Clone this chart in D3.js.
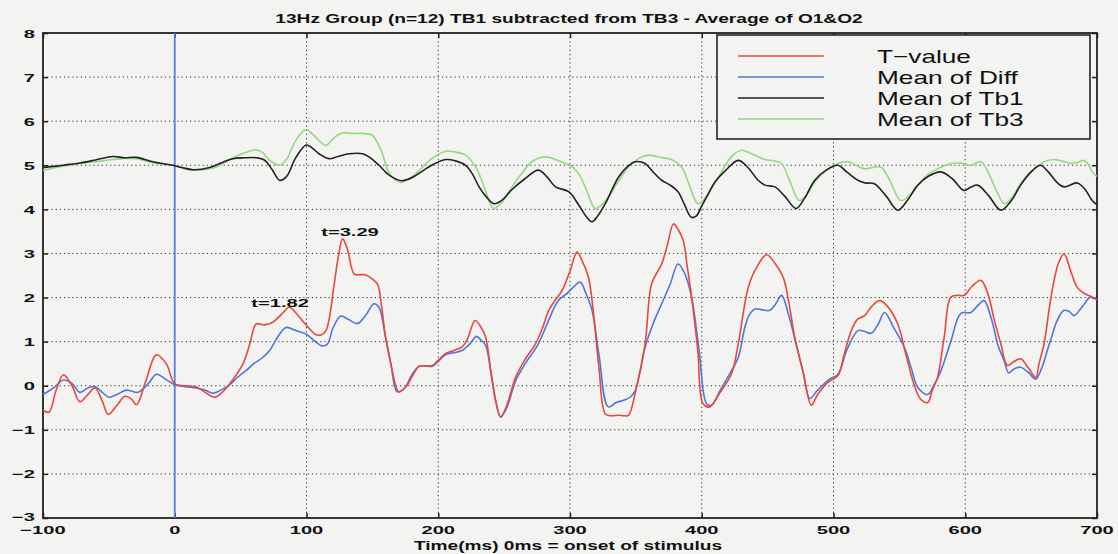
<!DOCTYPE html>
<html>
<head>
<meta charset="utf-8">
<script src="https://cdn.jsdelivr.net/npm/d3@7"></script>
<style>
  html, body { margin: 0; padding: 0; background: #f3f3f1; }
  svg { display: block; }
  text { font-family: "Liberation Sans", Arial, sans-serif; fill: #111; }
</style>
</head>
<body>
<div id="chart"></div>
<script>
// DATOS: [tiempo ms, valor]
var tValue = [[-100,-0.55],[-95.5,-0.6],[-90,-0.1],[-84.5,0.25],[-78,0.0],[-72,-0.36],[-66,-0.2],[-60.6,-0.05],[-55,-0.35],[-50.5,-0.65],[-44,-0.45],[-37.8,-0.24],[-33,-0.3],[-29,-0.43],[-22,0.1],[-14,0.7],[-6.3,0.49],[0,0.04],[8,0.0],[16.4,-0.03],[23,-0.15],[30.3,-0.26],[36,-0.15],[41.6,0.04],[51.7,0.49],[57,0.95],[61.8,1.4],[68,1.38],[74.4,1.44],[81,1.62],[87,1.78],[92,1.65],[97,1.47],[102,1.3],[107,1.16],[111,1.15],[114.8,1.25],[121,2.3],[124,2.9],[127.4,3.33],[131,3.1],[136.3,2.53],[141,2.52],[145,2.51],[150,2.42],[154,2.3],[157,1.8],[160,1.1],[164,0.5],[168,-0.03],[170,-0.14],[175.4,-0.03],[180,0.2],[185.5,0.44],[190,0.45],[195.5,0.46],[200,0.58],[205.7,0.73],[212,0.8],[218,0.88],[222,1.05],[228,1.48],[232,1.35],[236,1.1],[240,0.3],[244,-0.4],[247.3,-0.71],[252,-0.45],[258.7,0.19],[266,0.6],[273.8,0.95],[279,1.3],[283.9,1.71],[289,1.95],[294,2.16],[300,2.6],[305.3,3.03],[309,2.85],[314,2.46],[318,1.6],[322,0.4],[326.8,-0.64],[331,-0.68],[337,-0.67],[341,-0.68],[344.4,-0.67],[350,-0.1],[357,0.95],[362,2.31],[369.6,2.76],[374,3.2],[378.5,3.67],[382,3.55],[386,3.29],[389,2.7],[392.3,2.01],[397,0.8],[401,-0.41],[406,-0.48],[414,-0.15],[422.6,0.27],[427.7,0.95],[432.7,1.86],[435.3,2.23],[441,2.65],[449.2,2.97],[455,2.8],[461.8,2.46],[466,1.9],[470.6,1.1],[477,0.3],[483.2,-0.44],[488,-0.2],[495.8,0.08],[503.4,0.23],[508,0.7],[513.5,1.25],[518,1.5],[523.6,1.59],[529,1.8],[535,1.93],[541,1.8],[548.8,1.4],[555,0.7],[561.4,0.0],[566,-0.3],[571.5,-0.38],[575,-0.1],[579,0.19],[584,1.1],[589,2.01],[594,2.05],[599.2,2.05],[605,2.25],[611.9,2.39],[617,2.1],[622,1.5],[627,0.95],[632,0.46],[637,0.55],[642,0.61],[648,0.4],[653.5,0.19],[656,0.5],[659.8,0.95],[664,1.8],[667.4,2.39],[671,2.8],[675,2.99],[680,2.6],[685,2.23],[690,2.1],[696.4,2.01],[700,1.95]];

var meanDiff = [[-100,-0.2],[-92,-0.05],[-84.5,0.13],[-78,0.05],[-72,-0.15],[-66,-0.05],[-60.6,-0.02],[-55,-0.15],[-50,-0.26],[-44,-0.2],[-37,-0.1],[-33,-0.12],[-28,-0.15],[-20,0.05],[-13.9,0.26],[-7,0.15],[0,0.02],[8,-0.02],[16.4,-0.05],[23,-0.1],[29,-0.17],[35,-0.1],[41.6,0.02],[48,0.2],[54,0.34],[60,0.5],[66.7,0.64],[72,0.8],[78,1.1],[84.5,1.32],[92,1.25],[99.7,1.17],[106,1.02],[112.3,0.9],[116,0.95],[120,1.3],[126,1.58],[132,1.5],[138.6,1.41],[145,1.6],[151.2,1.86],[155,1.78],[160,1.1],[164,0.5],[168,-0.11],[170,-0.14],[175,-0.03],[180,0.25],[185.5,0.44],[190,0.45],[195.5,0.44],[200,0.55],[205.7,0.71],[212,0.75],[218,0.8],[224,0.95],[229,1.12],[232,1.05],[236,0.91],[240,0.3],[244,-0.4],[247.3,-0.71],[252,-0.5],[258.7,0.11],[266,0.5],[276,0.95],[284,1.5],[291,1.93],[298,2.1],[303,2.25],[307.8,2.35],[312,2.1],[316.7,1.71],[322,0.7],[329,-0.48],[335,-0.38],[341.9,-0.32],[346,-0.25],[349.5,-0.11],[353,0.3],[357,0.87],[363,1.4],[369.6,1.86],[376,2.3],[382,2.76],[387,2.55],[392.3,2.01],[398,0.8],[403.7,-0.41],[407.5,-0.44],[414,-0.1],[422.6,0.34],[427.7,0.64],[432.7,1.32],[436,1.6],[440.4,1.74],[446,1.72],[451.7,1.71],[456,1.85],[460.6,2.05],[466,1.6],[471.6,0.95],[477,0.3],[482,-0.29],[488,-0.1],[497,0.15],[503.4,0.26],[510,0.8],[518.5,1.25],[523,1.24],[528.6,1.19],[534,1.4],[538.7,1.66],[546,1.3],[553.8,0.87],[559,0.4],[564,-0.04],[571.5,-0.2],[576,0.0],[581.6,0.34],[589,1.0],[596.7,1.64],[604.2,1.66],[609,1.8],[614.3,1.93],[620,1.5],[625,0.9],[629.5,0.57],[633,0.29],[637,0.38],[642,0.42],[648,0.3],[653.5,0.15],[658,0.4],[662.3,0.8],[666,1.15],[669.8,1.48],[675,1.71],[679,1.68],[682.6,1.59],[689,1.8],[695,2.01],[700,1.95]];

var meanTb1 = [[-100,4.95],[-90,4.98],[-80,5.02],[-72,5.05],[-60,5.12],[-47,5.2],[-38,5.17],[-29,5.18],[-16.6,5.08],[-1.5,5.0],[5,4.95],[14,4.9],[26.5,4.95],[35,5.05],[44,5.15],[53,5.17],[62,5.17],[68,5.12],[74,4.9],[79.5,4.66],[84.5,4.73],[92,5.18],[99.7,5.46],[104,5.4],[110,5.25],[117,5.15],[124,5.2],[132.5,5.26],[142.5,5.26],[148,5.18],[155,5.0],[163,4.77],[171.6,4.65],[177,4.68],[183,4.77],[195,5.0],[205.7,5.13],[213,5.1],[220.8,5.0],[226,4.8],[231,4.51],[236,4.3],[242,4.13],[248,4.2],[256,4.45],[266,4.7],[276,4.89],[283,4.72],[289,4.51],[299,4.4],[306.6,4.1],[312,3.85],[316.7,3.72],[321,3.85],[326.8,4.13],[337,4.74],[344,4.98],[349.5,5.08],[357,5.04],[363,4.85],[369.6,4.66],[376,4.55],[382,4.4],[387,4.1],[392,3.82],[396,3.85],[399.7,4.06],[405,4.35],[410,4.62],[418,4.88],[427.7,5.11],[435,4.95],[442.8,4.66],[448,4.55],[455.5,4.51],[463,4.3],[471.6,4.02],[478,4.25],[485.8,4.66],[495,4.9],[503.4,5.0],[510,4.85],[518.5,4.66],[524,4.6],[531,4.58],[540,4.3],[548.8,3.98],[556,4.2],[564,4.55],[572,4.75],[581.4,4.85],[590,4.7],[599,4.43],[604,4.5],[609.4,4.55],[618,4.3],[627,3.98],[635,4.2],[642,4.55],[650,4.85],[657,5.0],[663,4.85],[670,4.6],[675,4.51],[685,4.6],[691,4.45],[696.4,4.2],[700,4.1]];

var meanTb3 = [[-100,4.88],[-90,4.95],[-80,5.0],[-70,5.05],[-60,5.08],[-50,5.12],[-40,5.15],[-29,5.15],[-16,5.05],[-1.5,5.0],[8,4.93],[14,4.89],[22,4.9],[31.5,4.96],[40,5.1],[48,5.22],[55,5.3],[62,5.35],[67,5.28],[71.6,5.12],[79.5,5.0],[84.5,5.12],[92,5.57],[99.7,5.81],[104,5.72],[107,5.64],[114.6,5.45],[120,5.6],[127,5.73],[135,5.72],[142.5,5.72],[150,5.68],[154,5.5],[157.6,5.26],[163,4.81],[171.6,4.61],[177,4.68],[183,4.81],[195,5.15],[205.7,5.32],[213,5.3],[220.8,5.23],[228.4,4.96],[235,4.5],[242,4.02],[248,4.15],[256,4.51],[263,4.8],[271,5.08],[281,5.19],[290,5.12],[296,5.04],[300,5.0],[306.6,4.81],[313,4.4],[319,4.02],[324,4.1],[329,4.28],[337,4.65],[344.4,4.96],[352,5.15],[359.6,5.23],[368,5.18],[377,5.13],[384.7,4.96],[390,4.6],[397,4.13],[401,4.2],[407.3,4.47],[415,4.85],[422.4,5.19],[430,5.34],[437.8,5.26],[448,5.13],[455,5.1],[460.6,5.04],[466,4.7],[474,4.2],[479,4.3],[485.8,4.62],[495,4.9],[503.4,5.04],[511,5.08],[517,5.0],[523.5,4.92],[530,4.95],[536,4.96],[542,4.7],[551,4.2],[557,4.3],[564,4.55],[572,4.8],[579,4.92],[589,5.04],[596,5.05],[604,5.0],[611.9,5.08],[618,4.8],[624,4.4],[629.5,4.13],[635,4.25],[642,4.58],[648,4.8],[654.6,4.96],[660,5.08],[667.3,5.13],[673,5.1],[680,5.04],[685,5.06],[690,5.11],[694,5.0],[696.4,4.85],[700,4.75]];

var xTicks = [-100, 0, 100, 200, 300, 400, 500, 600, 700];
var yTicks = [-3, -2, -1, 0, 1, 2, 3, 4, 5, 6, 7, 8];
var seriesNames = ['T\u2212value', 'Mean of Diff', 'Mean of Tb1', 'Mean of Tb3'];
var seriesColors = ['#e8473d', '#4f76d9', '#222222', '#93d884'];
var seriesData = [tValue, meanDiff, meanTb1, meanTb3];
var notes = [[80, 1.78, 't=1.82'], [133, 3.4, 't=3.29']];
var stimulusTime = 0;

var chart_width = 1118, chart_height = 554;
var m = { left: 43, right: 21, top: 33, bottom: 36 };

var svg = d3.select('#chart').append('svg')
    .attr('width', chart_width).attr('height', chart_height);

var scale_x = d3.scaleLinear().domain([-100, 700]).range([m.left, chart_width - m.right]);
var scale_y = d3.scaleLinear().domain([-3, 8]).range([chart_height - m.bottom, m.top]);

// texto estirado en x (el escaneo original tiene letras muy anchas)
function stretchText(g, x, y, str, size, weight, anchor, k) {
    return g.append('text')
        .attr('transform', 'translate(' + x + ',' + y + ') scale(' + k + ',1)')
        .attr('text-anchor', anchor || 'start')
        .attr('font-size', size)
        .attr('font-weight', weight || 'normal')
        .text(str);
}

// GRILLA punteada
var grid = svg.append('g').attr('stroke', '#333').attr('stroke-width', 1).attr('stroke-dasharray', '1.2,3');
grid.selectAll('.gx').data(xTicks.slice(1, -1).filter(function (d) { return d !== stimulusTime; })).enter()
    .append('line')
    .attr('x1', function (d) { return scale_x(d); }).attr('x2', function (d) { return scale_x(d); })
    .attr('y1', scale_y(8)).attr('y2', scale_y(-3));
grid.selectAll('.gy').data(yTicks.slice(1, -1)).enter()
    .append('line')
    .attr('y1', function (d) { return scale_y(d); }).attr('y2', function (d) { return scale_y(d); })
    .attr('x1', scale_x(-100)).attr('x2', scale_x(700));

// EJES: ticks hacia adentro en los 4 lados
var tk = 5;
function styleAxis(sel) {
    sel.select('.domain').remove();
    sel.selectAll('.tick line').attr('stroke', '#222').attr('stroke-width', 1.5);
    sel.selectAll('.tick text').remove();
}
svg.append('g').attr('transform', 'translate(0,' + scale_y(-3) + ')')
    .call(d3.axisBottom(scale_x).tickValues(xTicks).tickSize(-tk)).call(styleAxis);
svg.append('g').attr('transform', 'translate(0,' + scale_y(8) + ')')
    .call(d3.axisTop(scale_x).tickValues(xTicks).tickSize(-tk)).call(styleAxis);
svg.append('g').attr('transform', 'translate(' + scale_x(-100) + ',0)')
    .call(d3.axisLeft(scale_y).tickValues(yTicks).tickSize(-tk)).call(styleAxis);
svg.append('g').attr('transform', 'translate(' + scale_x(700) + ',0)')
    .call(d3.axisRight(scale_y).tickValues(yTicks).tickSize(-tk)).call(styleAxis);

// marco
svg.append('rect')
    .attr('x', scale_x(-100)).attr('y', scale_y(8))
    .attr('width', scale_x(700) - scale_x(-100)).attr('height', scale_y(-3) - scale_y(8))
    .attr('fill', 'none').attr('stroke', '#222').attr('stroke-width', 1.8);

// etiquetas de los ejes
var lab = svg.append('g');
xTicks.forEach(function (d) {
    stretchText(lab, scale_x(d), scale_y(-3) + 16, d < 0 ? '\u2212' + Math.abs(d) : d, 11.5, 'bold', 'middle', 1.75);
});
yTicks.forEach(function (d) {
    stretchText(lab, scale_x(-100) - 8, scale_y(d) + (d === -3 ? 3 : 4.5), d < 0 ? '\u2212' + Math.abs(d) : d, 11.5, 'bold', 'end', 1.75);
});

// linea del estimulo
svg.append('line')
    .attr('x1', scale_x(stimulusTime)).attr('x2', scale_x(stimulusTime))
    .attr('y1', scale_y(8)).attr('y2', scale_y(-3))
    .attr('stroke', '#5b7fe0').attr('stroke-width', 1.8);

// CURVAS
var line = d3.line()
    .x(function (d) { return scale_x(d[0]); })
    .y(function (d) { return scale_y(d[1]); })
    .curve(d3.curveCatmullRom.alpha(0.5));

[3, 2, 1, 0].forEach(function (i) {
    svg.append('path')
        .attr('d', line(seriesData[i]))
        .attr('fill', 'none')
        .attr('stroke', seriesColors[i])
        .attr('stroke-width', 1.6)
        .attr('stroke-linejoin', 'round');
});

// anotaciones
notes.forEach(function (n) {
    stretchText(svg, scale_x(n[0]), scale_y(n[1]), n[2], 11.5, 'bold', 'middle', 1.75);
});

// LEYENDA
var lg = svg.append('g');
lg.append('rect').attr('x', 717).attr('y', 35).attr('width', 373).attr('height', 104)
    .attr('fill', '#f3f3f1').attr('stroke', '#222').attr('stroke-width', 1.6);
seriesNames.forEach(function (name, i) {
    var yy = 56 + i * 21;
    lg.append('line').attr('x1', 738).attr('x2', 824).attr('y1', yy).attr('y2', yy)
        .attr('stroke', seriesColors[i]).attr('stroke-width', 1.6);
    stretchText(lg, 877, yy + 7, name, 19, 'normal', 'start', 1.38);
});

// TITULOS
stretchText(svg, 569, 23, '13Hz Group (n=12) TB1 subtracted from TB3 - Average of O1&O2', 12.5, 'bold', 'middle', 1.53);
stretchText(svg, 568, 550, 'Time(ms) 0ms = onset of stimulus', 12.5, 'bold', 'middle', 1.53);
</script>
</body>
</html>
